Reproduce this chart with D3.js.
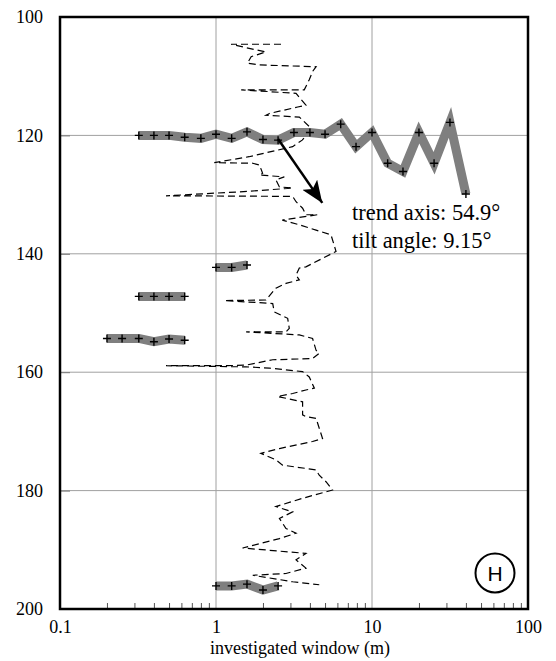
<!DOCTYPE html>
<html>
<head>
<meta charset="utf-8">
<script src="https://cdn.jsdelivr.net/npm/d3@7"></script>
<style>
  body { margin: 0; background: #fff; }
  text { font-family: "Liberation Serif", "Times New Roman", serif; }
</style>
</head>
<body>
<svg id="chart" width="556" height="661"></svg>
<script>
// ticks
const xTicks = [0.1, 1, 10, 100];
const xMinor = [0.2, 0.3, 0.4, 0.5, 0.6, 0.7, 0.8, 0.9, 2, 3, 4, 5, 6, 7, 8, 9, 20, 30, 40, 50, 60, 70, 80, 90];
const yTicks = [100, 120, 140, 160, 180, 200];
const yGrid = [120, 140, 160, 180];
const xGrid = [1, 10];

// gray window segments (window size, depth)
const seg120X = [0.32, 0.4, 0.5, 0.63, 0.8, 1.0, 1.26, 1.58, 2.0, 2.5, 3.16, 4.0, 5.0, 6.3, 7.9, 10, 12.6, 15.8, 20, 25, 31.6, 40];
const seg120Y = [120.0, 120.0, 120.0, 120.3, 120.5, 119.8, 120.5, 119.4, 120.7, 120.8, 119.5, 119.5, 119.8, 118.1, 121.9, 119.5, 124.7, 126.1, 119.5, 124.7, 117.8, 129.9];
const seg142X = [1.0, 1.26, 1.58];
const seg142Y = [142.3, 142.3, 141.9];
const seg147X = [0.32, 0.4, 0.5, 0.63];
const seg147Y = [147.2, 147.2, 147.2, 147.2];
const seg154X = [0.2, 0.25, 0.32, 0.4, 0.5, 0.63];
const seg154Y = [154.3, 154.3, 154.3, 154.85, 154.4, 154.6];
const seg196X = [1.0, 1.26, 1.58, 2.0, 2.5];
const seg196Y = [196.1, 196.1, 195.8, 196.8, 196.1];

// thin profile line
const profileX = [2.61, 1.25, 1.63, 2.09, 1.68, 1.59, 1.90, 4.38, 4.16, 3.96, 3.68, 1.45, 3.26, 3.77, 3.34, 2.20, 2.09, 3.42, 3.96, 4.06,
  3.57, 3.10, 1.63, 0.975, 1.72, 1.90, 1.99, 1.90, 2.74, 2.42, 2.55, 3.10, 1.5, 0.478, 3.10, 3.26, 3.59, 3.77, 4.46, 2.66,
  3.42, 4.38, 5.46, 5.88, 5.59, 3.77, 3.42, 3.26, 3.42, 2.81, 2.42, 2.09, 1.13, 2.31, 2.36, 2.88, 2.95, 2.81, 1.56, 3.42,
  4.16, 4.38, 4.59, 4.16, 2.31, 1.56, 1.19, 0.478, 1.56, 2.20, 3.59, 3.96, 4.27, 3.77, 3.10, 2.48, 3.59, 3.59, 3.77, 4.38,
  4.82, 4.16, 2.55, 1.94, 2.42, 2.67, 4.38, 4.59, 5.07, 5.59, 3.59, 2.42, 3.10, 2.55, 2.81, 3.26, 2.55, 1.48, 3.77, 3.26,
  3.77, 2.81, 1.72, 3.10, 4.59];
const profileY = [104.6, 104.6, 105.3, 105.9, 106.7, 107.8, 108.1, 108.4, 109.2, 110.6, 112.3, 112.3, 112.9, 114.9, 115.2, 116.3, 116.6, 116.9, 118.5, 119.1,
  120.8, 121.9, 123.6, 124.6, 124.7, 125.0, 126.4, 126.7, 127.0, 127.5, 128.7, 128.9, 129.5, 130.2, 130.3, 131.2, 132.3, 133.4, 133.4, 134.3,
  135.1, 136.0, 136.8, 139.6, 139.9, 142.2, 142.4, 143.6, 144.4, 145.0, 145.8, 147.8, 147.9, 148.4, 149.8, 150.9, 152.6, 153.2, 153.2, 153.7,
  154.3, 156.3, 156.8, 157.7, 157.9, 158.8, 158.9, 158.9, 159.1, 159.3, 159.9, 160.8, 162.7, 163.0, 163.6, 164.1, 165.0, 167.2, 167.5, 167.8,
  171.2, 171.7, 172.9, 173.7, 174.8, 175.7, 176.5, 177.4, 178.5, 179.9, 181.3, 182.7, 183.6, 184.7, 186.4, 187.2, 188.1, 189.7, 190.6, 191.7,
  193.1, 194.0, 194.3, 195.4, 195.9];

// trend arrow (start, tip)
const arrowX = [2.5, 4.8];
const arrowY = [120.6, 131.4];

const notes = ["trend axis: 54.9\u00b0", "tilt angle: 9.15\u00b0"];

const svg = d3.select("#chart");
const plotLeft = 60, plotRight = 528, plotTop = 17, plotBottom = 609;
const serif = "Liberation Serif, Times New Roman, serif";

const x = d3.scaleLog().domain([0.1, 100]).range([plotLeft, plotRight]);
const y = d3.scaleLinear().domain([100, 200]).range([plotTop, plotBottom]);

// grid
svg.append("g").selectAll("line")
  .data(xGrid).enter().append("line")
  .attr("x1", d => x(d)).attr("x2", d => x(d))
  .attr("y1", plotTop).attr("y2", plotBottom)
  .attr("stroke", "#a0a0a0").attr("stroke-width", 1);
svg.append("g").selectAll("line")
  .data(yGrid).enter().append("line")
  .attr("x1", plotLeft).attr("x2", plotRight)
  .attr("y1", d => y(d)).attr("y2", d => y(d))
  .attr("stroke", "#a0a0a0").attr("stroke-width", 1);

// minor ticks on bottom
const minorAxis = svg.append("g")
  .attr("transform", `translate(0,${plotBottom})`)
  .call(d3.axisBottom(x).tickValues(xMinor).tickSize(-6).tickFormat(""));
minorAxis.select(".domain").remove();
minorAxis.selectAll("line").attr("stroke", "#555");

// small ticks on left
const leftTicks = svg.append("g")
  .attr("transform", `translate(${plotLeft},0)`)
  .call(d3.axisLeft(y).tickValues(yGrid).tickSize(-10).tickFormat(""));
leftTicks.select(".domain").remove();
leftTicks.selectAll("line").attr("stroke", "#777");

// tick labels
const xAxis = svg.append("g")
  .attr("transform", `translate(0,${plotBottom})`)
  .call(d3.axisBottom(x).tickValues(xTicks).tickSize(0).tickPadding(11).tickFormat(d3.format("~g")))
  .attr("font-family", serif)
  .attr("font-size", 18);
xAxis.select(".domain").remove();
xAxis.selectAll("text").attr("fill", "#000");

const yAxis = svg.append("g")
  .attr("transform", `translate(${plotLeft},0)`)
  .call(d3.axisLeft(y).tickValues(yTicks).tickSize(0).tickPadding(17))
  .attr("font-family", serif)
  .attr("font-size", 18);
yAxis.select(".domain").remove();
yAxis.selectAll("text").attr("fill", "#000");

svg.append("text")
  .attr("x", (plotLeft + plotRight) / 2 + 6)
  .attr("y", 654)
  .attr("text-anchor", "middle")
  .attr("font-size", "18px")
  .text("investigated window (m)");

// thin profile
const line = d3.line().x(d => x(d[0])).y(d => y(d[1]));
svg.append("path")
  .datum(d3.zip(profileX, profileY))
  .attr("d", line)
  .attr("fill", "none")
  .attr("stroke", "#000")
  .attr("stroke-width", 1.2)
  .attr("stroke-dasharray", "7,4");

// gray window segments with + markers
const segments = [
  d3.zip(seg120X, seg120Y),
  d3.zip(seg142X, seg142Y),
  d3.zip(seg147X, seg147Y),
  d3.zip(seg154X, seg154Y),
  d3.zip(seg196X, seg196Y)
];
svg.append("g").selectAll("path")
  .data(segments).enter().append("path")
  .attr("d", line)
  .attr("fill", "none")
  .attr("stroke", "#7f7f7f")
  .attr("stroke-width", 9)
  .attr("stroke-linejoin", "miter");

const pts = segments.flat();
svg.append("g").selectAll("path")
  .data(pts).enter().append("path")
  .attr("d", d => {
    const px = x(d[0]), py = y(d[1]), s = 4;
    return `M${px - s},${py}H${px + s}M${px},${py - s}V${py + s}`;
  })
  .attr("stroke", "#000")
  .attr("stroke-width", 1.4);

// frame
svg.append("rect")
  .attr("x", plotLeft).attr("y", plotTop)
  .attr("width", plotRight - plotLeft).attr("height", plotBottom - plotTop)
  .attr("fill", "none")
  .attr("stroke", "#000")
  .attr("stroke-width", 2.5);

// arrow
svg.append("defs").append("marker")
  .attr("id", "head")
  .attr("markerUnits", "userSpaceOnUse")
  .attr("markerWidth", 24).attr("markerHeight", 18)
  .attr("refX", 22).attr("refY", 9)
  .attr("orient", "auto")
  .append("path")
  .attr("d", "M0,0 L22,9 L0,18 L5,9 Z")
  .attr("fill", "#000");

svg.append("line")
  .attr("x1", x(arrowX[0])).attr("y1", y(arrowY[0]))
  .attr("x2", x(arrowX[1])).attr("y2", y(arrowY[1]))
  .attr("stroke", "#000")
  .attr("stroke-width", 2.5)
  .attr("marker-end", "url(#head)");

// annotation
svg.append("g").selectAll("text")
  .data(notes).enter().append("text")
  .attr("x", 352)
  .attr("y", (d, i) => 220 + i * 28)
  .attr("font-size", "22.5px")
  .text(d => d);

// H badge
svg.append("circle")
  .attr("cx", 495).attr("cy", 573).attr("r", 19.5)
  .attr("fill", "none").attr("stroke", "#000").attr("stroke-width", 2);
svg.append("text")
  .attr("x", 495).attr("y", 580.5)
  .attr("text-anchor", "middle")
  .attr("font-size", "21px")
  .style("font-family", "'Liberation Sans', Arial, sans-serif")
  .text("H");
</script>
</body>
</html>
